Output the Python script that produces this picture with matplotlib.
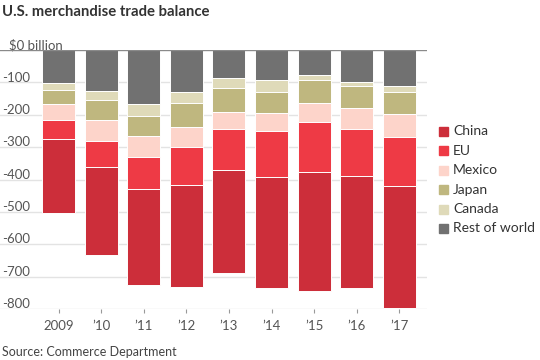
import matplotlib
matplotlib.use("Agg")
import matplotlib.pyplot as plt
from matplotlib.patches import Rectangle
from matplotlib.transforms import blended_transform_factory, offset_copy
import numpy as np

plt.rcParams['font.family'] = ['Lato', 'DejaVu Sans']

# U.S. goods trade balance by partner, $ billion
years = ["2009", "\u201910", "\u201911", "\u201912", "\u201913",
         "\u201914", "\u201915", "\u201916", "\u201917"]
rest_of_world = [-101, -127, -168, -130, -85, -94, -78, -100, -111]
canada = [-21.6, -28.5, -34.5, -32.1, -31.8, -34.9, -15.5, -10.9, -17.6]
japan = [-44.7, -60.0, -63.2, -76.3, -73.4, -67.0, -68.6, -68.9, -68.8]
mexico = [-47.8, -66.0, -64.5, -61.4, -54.5, -53.8, -60.7, -63.2, -71.1]
eu = [-61.2, -80.0, -99.4, -116.2, -125.3, -141.1, -155.5, -146.3, -151.4]
china = [-227.0, -273.0, -295.2, -315.1, -318.7, -344.8, -367.3, -347.0, -375.6]

yticks = [0, -100, -200, -300, -400, -500, -600, -700, -800]

# stacked top-down
stack = [("Rest of world", rest_of_world, "#717171"),
         ("Canada", canada, "#dfdab9"),
         ("Japan", japan, "#bfb77f"),
         ("Mexico", mexico, "#fdd4ca"),
         ("EU", eu, "#ee3a45"),
         ("China", china, "#cc2e3a")]

fig = plt.figure(figsize=(5.4, 3.6), dpi=100)
ax = fig.add_axes([0.0, 0.1417, 0.791, 0.7193])

x = np.arange(len(years))
bottom = np.zeros(len(years))
for name, vals, col in stack:
    vals = np.array(vals)
    ax.bar(x, vals, 0.775, bottom=bottom, color=col, edgecolor="white",
           linewidth=0.7, zorder=3)
    bottom = bottom + vals

ax.set_xlim(-1.373, 8.65)
ax.set_ylim(-800, 0)

for v in yticks:
    lc = "#8a8a8a" if v == 0 else "#e3e3e3"
    ax.axhline(v, color=lc, linewidth=1.0, zorder=1 if v else 4)

# value labels sit just above their gridline
trans = offset_copy(blended_transform_factory(ax.transAxes, ax.transData),
                    fig=fig, x=0, y=-0.8, units="points")
for v in yticks[1:]:
    ax.text(0.004, v, str(v), transform=trans, ha="left", va="bottom",
            fontsize=9.5, color="#555555")
ax.text(0.022, 0, "$0 billion", transform=trans, ha="left", va="bottom",
        fontsize=9.5, color="#555555")

for s in ax.spines.values():
    s.set_visible(False)
ax.set_yticks([])
ax.set_xticks(x)
ax.set_xticklabels(years, fontsize=9.5, color="#555555")
ax.tick_params(axis="x", length=3, width=0.8, color="#999999", pad=5)

# legend, China first
lx, ly, dy = 439, 131, 19.5
for i, (name, vals, col) in enumerate(stack[::-1]):
    yy = ly + i * dy
    fig.add_artist(Rectangle((lx / 540, 1 - (yy + 4.5) / 360), 9 / 540, 9 / 360,
                             transform=fig.transFigure, color=col))
    fig.text((lx + 14) / 540, 1 - yy / 360, name, ha="left", va="center",
             fontsize=10, color="#333333")

fig.text(2 / 540, 1 - 12 / 360, "U.S. merchandise trade balance", ha="left",
         va="center", fontsize=10.7, fontweight="bold", color="#333333")
fig.text(2 / 540, 1 - 352 / 360, "Source: Commerce Department", ha="left",
         va="center", fontsize=9, color="#444444")

fig.savefig("out.png", dpi=100)
